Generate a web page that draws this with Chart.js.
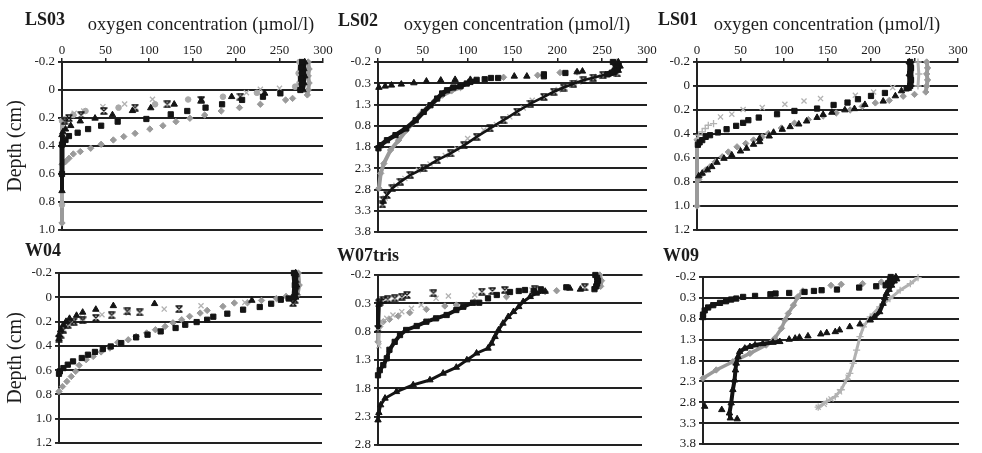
<!DOCTYPE html>
<html>
<head>
<meta charset="utf-8">
<script src="https://cdn.jsdelivr.net/npm/chart.js@4.4.1/dist/chart.umd.min.js"></script>
<style>
  html, body { margin: 0; padding: 0; background: #fff; width: 982px; height: 453px; overflow: hidden; }
  canvas { position: absolute; }
</style>
</head>
<body>
<script>
// ---------- tick labels ----------
const oxygenTicks = ['0', '50', '100', '150', '200', '250', '300'];
const depthTicksLS03 = ['-0.2', '0', '0.2', '0.4', '0.6', '0.8', '1.0'];
const depthTicksLS02 = ['-0.2', '0.3', '1.3', '0.8', '1.8', '2.3', '2.8', '3.3', '3.8'];
const depthTicksLS01 = ['-0.2', '0', '0.2', '0.4', '0.6', '0.8', '1.0', '1.2'];
const depthTicksW04 = ['-0.2', '0', '0.2', '0.4', '0.6', '0.8', '1.0', '1.2'];
const depthTicksW07 = ['-0.2', '0.3', '0.8', '1.3', '1.8', '2.3', '2.8'];
const depthTicksW09 = ['-0.2', '0.3', '0.8', '1.3', '1.8', '2.3', '2.8', '3.3', '3.8'];

// ---------- profiles: [oxygen µmol/l, depth cm] ----------
// LS03
const ls03SquaresTop = [[276,-0.2],[275,-0.16],[276,-0.12],[275,-0.08],[276,-0.04],[274,0.0]];
const ls03Squares = [[251,0.024],[231,0.048],[207,0.071],[184,0.102],[165,0.126],[144,0.15],[125,0.174],[97,0.207],[64,0.226],[45,0.255],[30,0.279],[18,0.305],[8,0.329],[4,0.357],[1,0.38]];
const ls03SquaresBed = [[0,0.39],[0,0.6]];
const ls03TrianglesTop = [[279,-0.2],[278,-0.15],[279,-0.1],[278,-0.05],[277,0.0]];
const ls03Triangles = [[233,0.024],[195,0.048],[160,0.075],[129,0.102],[102,0.128],[81,0.148],[58,0.178],[38,0.202],[21,0.222],[10,0.255],[4,0.28],[1,0.3]];
const ls03TrianglesBed = [[0,0.32],[0,0.72]];
const ls03Stars = [[277,-0.18],[276,-0.1],[276,-0.02],[205,0.048],[160,0.071],[121,0.102],[84,0.126],[48,0.15],[22,0.18],[8,0.2],[3,0.22]];
const ls03DiamondsTop = [[283,-0.2],[284,-0.15],[283,-0.1],[284,-0.05],[283,0.0],[282,0.035]];
const ls03Diamonds = [[265,0.06],[257,0.071],[228,0.102],[204,0.126],[183,0.15],[164,0.179],[147,0.202],[131,0.226],[116,0.255],[101,0.279],[84,0.31],[71,0.333],[59,0.357],[45,0.388],[33,0.416],[21,0.44],[13,0.457],[8,0.488],[4,0.512]];
const ls03DiamondsBed = [[0,0.53],[0,0.95]];
const ls03CirclesTop = [[273,-0.2],[272,-0.12],[273,-0.05]];
const ls03Circles = [[268,-0.024],[224,0.02],[185,0.048],[145,0.068],[107,0.102],[65,0.126],[27,0.15],[13,0.178],[3,0.21]];
const ls03CirclesBed = [[0,0.22],[0,0.82]];
const ls03Crosses = [[250,-0.012],[228,-0.005],[212,0.019],[161,0.066],[104,0.066],[72,0.1],[47,0.119],[25,0.15],[14,0.166],[4,0.214],[1,0.26]];

// LS02
const ls02SquaresTop = [[262,-0.2],[265,-0.15],[267,-0.1],[266,-0.05],[264,0.0],[261,0.05],[256,0.09]];
const ls02Squares = [[209,0.058],[185,0.09],[185,0.136],[134,0.176],[126,0.176],[119,0.206]];
const ls02SquaresCurve = [[110,0.22],[103,0.27],[99,0.307],[92,0.37],[84,0.4],[77,0.465],[71.5,0.54],[66,0.66],[58.5,0.817],[51,0.975],[42,1.17],[31,1.364],[19.5,1.52],[10,1.64],[3,1.757],[0.5,1.83]];
const ls02TrianglesTop = [[268,-0.2],[270,-0.1],[268,0.0]];
const ls02Triangles = [[228,0.018],[222,0.035],[166,0.136],[152,0.136],[103,0.214],[86,0.214],[70,0.23],[54,0.253],[40,0.293],[26,0.324],[15,0.347],[8,0.371],[1,0.4]];
const ls02Stars = [[267,0.07],[251,0.11],[240,0.17],[229,0.23],[218,0.31],[207,0.4],[196,0.5],[185,0.62],[170,0.78],[155,0.97],[140,1.17],[125,1.36],[110,1.56],[96,1.76],[81,1.95],[66,2.11],[51,2.3],[36,2.46],[25,2.62],[16,2.77],[10,2.93],[6,3.05],[5,3.15]];
const ls02DiamondsTop = [[266,-0.2],[268,-0.1],[265,0.0],[260,0.07]];
const ls02Diamonds = [[222,0.035],[203,0.049],[178,0.112],[140,0.16]];
const ls02DiamondsCurve = [[92,0.4],[82,0.48],[72,0.58],[63,0.72],[55,0.88],[47,1.04],[40,1.21],[32,1.4],[23,1.64],[14,1.87],[6.5,2.19],[3,2.42],[1,2.77]];
const ls02Crosses = [[245,0.14],[224,0.27],[201,0.45],[172,0.7],[162,0.88],[147,1.09],[132,1.27],[118,1.4],[100,1.6],[88,1.85],[75,2.0],[58,2.2],[45,2.35],[30,2.54],[20,2.7],[8,3.0],[5,3.17]];

// LS01
const ls01SquaresTop = [[245,-0.2],[246,-0.15],[245,-0.1],[246,-0.05],[245,0.0]];
const ls01Squares = [[241,0.02],[216,0.058],[200,0.083],[185,0.11],[173,0.138],[157,0.158],[138,0.188],[112,0.208],[92,0.235],[71,0.263],[59,0.285],[53,0.307],[45,0.332],[34,0.36],[24,0.387],[15,0.41],[10,0.424],[6,0.451],[3,0.47],[1,0.49]];
const ls01TrianglesTop = [[244,-0.2],[244,-0.1],[244,0.0]];
const ls01Triangles = [[243,0.02],[235,0.041],[228,0.083],[214,0.127],[193,0.155],[181,0.19],[170,0.2],[155,0.22],[145,0.238],[138,0.263],[126,0.293],[117,0.318],[107,0.34],[98,0.362],[88,0.387],[83,0.418],[72,0.437],[72,0.465],[65,0.487],[57,0.52],[50,0.543],[40,0.576],[31,0.604],[23,0.637],[17,0.673],[12,0.7],[6,0.728],[2,0.75]];
const ls01DiamondsTop = [[264,-0.2],[265,-0.15],[264,-0.1],[265,-0.05],[264,0.0],[263,0.05]];
const ls01Diamonds = [[250,0.07],[237,0.085],[221,0.12],[205,0.141],[190,0.17],[176,0.2],[160,0.225],[145,0.25],[128,0.28],[112,0.31],[97,0.35],[82,0.396],[75,0.424],[65,0.45],[56,0.479],[46,0.507],[36,0.55],[29,0.59],[21,0.632],[15,0.673],[10,0.7],[5,0.74],[2,0.78]];
const ls01DiamondsBed = [[0,0.45],[0,1.0]];
const ls01Crosses = [[225,0.013],[203,0.05],[182,0.077],[142,0.105],[123,0.125],[101,0.152],[75,0.18],[53,0.196],[40,0.235],[27,0.258]];
const ls01PlusTop = [[254,-0.2],[255,-0.1],[254,0.0]];
const ls01Plus = [[19,0.313],[13,0.327],[9.5,0.354],[6,0.382],[2,0.41],[1,0.44]];

// W04
const w04SquaresTop = [[268,-0.2],[269,-0.1],[268,0.0]];
const w04Squares = [[262,0.01],[253,0.02],[242,0.053],[229,0.08],[210,0.102],[192,0.135],[176,0.16],[169,0.185],[157,0.204],[144,0.226],[133,0.253],[116,0.281],[101,0.308],[88,0.33],[71,0.377],[59,0.405],[50,0.426],[41,0.45],[33,0.473],[26,0.5],[16,0.528],[10,0.555],[5,0.583],[1,0.61],[0,0.63]];
const w04TrianglesTop = [[270,-0.2],[271,-0.1],[270,0.0]];
const w04Triangles = [[220,0.026],[109,0.053],[62,0.07],[42,0.1],[27,0.124],[20,0.15],[12,0.175],[8,0.2],[5,0.226],[2,0.267],[0,0.31],[0,0.34]];
const w04StarsTop = [[270,-0.15],[270,-0.05],[269,0.02]];
const w04Stars = [[267,0.047],[137,0.097],[92,0.124],[78,0.116],[60,0.148],[42,0.17],[27,0.19],[17,0.2],[10,0.226],[5,0.267],[2,0.308],[0,0.34]];
const w04DiamondsTop = [[273,-0.2],[274,-0.1],[272,-0.02]];
const w04Diamonds = [[259,-0.007],[248,0.01],[231,0.026],[215,0.045],[200,0.047],[187,0.075],[169,0.108],[161,0.13],[149,0.157],[140,0.185],[130,0.21],[121,0.24],[110,0.267],[100,0.294],[88,0.322],[79,0.35],[67,0.371],[58,0.418],[48,0.45],[39,0.487],[31,0.514],[23,0.56],[19,0.61],[14,0.652],[9,0.693],[4,0.735],[0,0.775]];
const w04Crosses = [[212,0.042],[162,0.07],[120,0.097],[79,0.13],[49,0.143],[27,0.171],[14,0.212],[8,0.24]];

// W07tris
const w07BlackTop = [[247,-0.2],[249,-0.15],[250,-0.1],[249,-0.05],[248,0.0],[246,0.05]];
const w07Squares = [[214,0.017],[185,0.053],[177,0.082],[167,0.065],[160,0.082],[150,0.1],[135,0.153],[125,0.212],[115,0.289]];
const w07SquaresCurve = [[108,0.29],[97,0.36],[89,0.418],[78,0.506],[66,0.565],[55,0.624],[44,0.7],[32,0.77],[25,0.86],[19,0.98],[13,1.12],[10,1.27],[6,1.39],[2,1.48],[0,1.57]];
const w07Triangles = [[230,0.053],[218,0.035]];
const w07TrianglesCurve = [[190,0.09],[180,0.123],[173,0.183],[165,0.271],[160,0.36],[154,0.448],[148,0.536],[142,0.653],[137,0.77],[133,0.889],[129,1.005],[125,1.094],[112,1.18],[101,1.3],[89,1.43],[74,1.535],[59,1.653],[40,1.74],[21,1.86],[8,1.976],[3,2.094],[1,2.23],[0,2.36]];
const w07Stars = [[235,0.017],[178,0.053],[144,0.065],[130,0.082],[118,0.094],[63,0.123],[33,0.153],[27,0.183],[19,0.212],[11,0.23],[6,0.241],[2,0.271]];
const w07StarsBed = [[1,0.3],[0,0.75]];
const w07GrayTop = [[252,-0.2],[254,-0.1],[253,0.0]];
const w07Diamonds = [[203,0.077],[190,0.094],[146,0.183],[110,0.271],[89,0.33],[76,0.347],[55,0.406],[36,0.465],[23,0.523],[13,0.582],[6,0.624],[2,0.71]];
const w07DiamondsBed = [[1,0.7],[0,0.98]];
const w07Crosses = [[175,0.065],[110,0.153],[80,0.17],[66,0.212],[49,0.33],[38,0.388],[27,0.447],[17,0.506],[10,0.565],[4,0.624]];
const w07CrossesBed = [[1,0.75],[1,1.05]];

// W09
const w09SquaresTop = [[220,-0.2],[222,-0.15],[219,-0.1],[217,-0.05],[214,0.0]];
const w09Squares = [[203,0.022],[183,0.053],[157,0.1],[139,0.117],[130,0.134],[119,0.158],[101,0.182],[85,0.196],[79,0.213],[61,0.253],[47,0.277]];
const w09SquaresCurve = [[39,0.316],[33,0.34],[27,0.38],[20,0.42],[12,0.475],[6,0.53],[2,0.6],[0,0.7],[0,0.76]];
const w09TrianglesUpper = [[226,-0.2],[227,-0.15],[224,-0.1],[221,0.0],[218,0.1],[215,0.196],[213,0.3],[211,0.435],[207,0.635],[201,0.755],[196,0.834]];
const w09Triangles = [[184,0.929],[172,0.993],[160,1.072],[155,1.113],[145,1.137],[138,1.168],[123,1.215],[113,1.247],[108,1.27],[101,1.294],[2,2.9],[22,2.98],[40,3.2]];
const w09TrianglesLower = [[90,1.35],[82,1.367],[70,1.4],[61,1.43],[55,1.47],[49,1.509],[43,1.59],[41,1.71],[39,1.867],[38,2.03],[37,2.27],[35,2.5],[33,2.82],[31,3.06],[32,3.18]];
const w09Diamonds = [[209,-0.08],[187,-0.04],[162,-0.025],[150,0.0]];
const w09DiamondsCurve = [[117,0.134],[111,0.277],[106,0.475],[100,0.674],[96,0.834],[92,1.03],[84,1.27],[74,1.43],[55,1.63],[35,1.83],[15.5,2.027],[0,2.225]];
const w09PlusCurve = [[252,-0.185],[243,-0.04],[231,0.117],[219,0.316],[207,0.516],[196,0.755],[188,0.993],[184,1.23],[180,1.55],[176,1.867],[172,2.106],[168,2.265],[162,2.5],[155,2.664],[145,2.78],[135,2.917]];
const w09Crosses = [[135,2.92],[142,2.85],[150,2.72],[160,2.55],[170,2.2]];

// ---------- marker styles ----------
const FONT = "'Liberation Serif', 'Times New Roman', serif";
const INK = '#1c1c1c';
const BLACK = '#141414';
const GRAY_D = '#9a9a9a';
const GRAY_C = '#a9a9a9';
const GRAY_X = '#b2b2b2';

function starMark() {
  const c = document.createElement('canvas');
  c.width = 8; c.height = 8;
  const g = c.getContext('2d');
  g.strokeStyle = BLACK;
  g.lineWidth = 1.4;
  g.beginPath();
  g.moveTo(1, 1); g.lineTo(7, 7);
  g.moveTo(7, 1); g.lineTo(1, 7);
  g.moveTo(0.5, 1); g.lineTo(7.5, 1);
  g.moveTo(0.5, 7); g.lineTo(7.5, 7);
  g.stroke();
  return c;
}
const STAR = starMark();

const marks = {
  sq: { style: 'rect', r: 3.7, color: BLACK, bw: 1 },
  tr: { style: 'triangle', r: 3.7, color: BLACK, bw: 1 },
  st: { style: STAR, r: 4, color: BLACK, bw: 1 },
  di: { style: 'rectRot', r: 3.2, color: GRAY_D, bw: 1 },
  ci: { style: 'circle', r: 2.8, color: GRAY_C, bw: 1 },
  xg: { style: 'crossRot', r: 3.6, color: GRAY_X, bw: 1.3 },
  pg: { style: 'cross', r: 3.6, color: GRAY_X, bw: 1.3 }
};

function ds(points, mark, lineWidth) {
  const m = marks[mark];
  return {
    data: points.map(p => ({ x: p[0], y: p[1] })),
    pointStyle: m.style,
    pointRadius: m.r,
    pointHoverRadius: m.r,
    pointBackgroundColor: m.color,
    pointBorderColor: m.color,
    pointBorderWidth: m.bw,
    showLine: !!lineWidth,
    borderColor: m.color,
    borderWidth: lineWidth || 0,
    tension: 0,
    clip: 12
  };
}

// ---------- text drawn on each panel (panel name, axis caption) ----------
const panelText = {
  id: 'panelText',
  afterDraw(chart, args, opts) {
    const ctx = chart.ctx;
    ctx.save();
    ctx.fillStyle = INK;
    ctx.textBaseline = 'alphabetic';
    for (const t of opts.items) {
      ctx.font = t.font;
      ctx.textAlign = t.align;
      ctx.fillText(t.text, t.x - opts.ox, t.y - opts.oy);
    }
    ctx.restore();
  }
};

const CAPTION = 'oxygen concentration (\u00b5mol/l)';

const panels = [
  { name: 'LS03', L: 62, T: 62, R: 323, B: 230, min: -0.2, max: 1.0, step: 0.2, labels: depthTicksLS03,
    top: true, depth: true, nameX: 25, nameY: 25, capX: 201,
    sets: [
      ds(ls03SquaresTop, 'sq', 5), ds(ls03Squares, 'sq'), ds(ls03SquaresBed, 'sq', 5),
      ds(ls03TrianglesTop, 'tr', 4), ds(ls03Triangles, 'tr'), ds(ls03TrianglesBed, 'tr', 4),
      ds(ls03Stars, 'st'),
      ds(ls03CirclesTop, 'ci', 3), ds(ls03Circles, 'ci'), ds(ls03CirclesBed, 'ci', 4),
      ds(ls03Crosses, 'xg'),
      ds(ls03DiamondsTop, 'di', 4), ds(ls03Diamonds, 'di'), ds(ls03DiamondsBed, 'di', 4)
    ] },
  { name: 'LS02', L: 378, T: 62, R: 647, B: 232, min: -0.2, max: 3.8, step: 0.5, labels: depthTicksLS02,
    top: true, depth: false, nameX: 338, nameY: 25.5, capX: 517,
    sets: [
      ds(ls02SquaresTop, 'sq', 6), ds(ls02Squares, 'sq'), ds(ls02SquaresCurve, 'sq', 4.5),
      ds(ls02TrianglesTop, 'tr', 4), ds(ls02Triangles, 'tr'),
      ds(ls02Stars, 'st', 2.6),
      ds(ls02Crosses, 'xg'),
      ds(ls02DiamondsTop, 'di', 4), ds(ls02Diamonds, 'di'), ds(ls02DiamondsCurve, 'di', 4)
    ] },
  { name: 'LS01', L: 697, T: 62, R: 958, B: 230, min: -0.2, max: 1.2, step: 0.2, labels: depthTicksLS01,
    top: true, depth: false, nameX: 658, nameY: 25, capX: 827,
    sets: [
      ds(ls01SquaresTop, 'sq', 6), ds(ls01Squares, 'sq'),
      ds(ls01TrianglesTop, 'tr', 4), ds(ls01Triangles, 'tr'),
      ds(ls01Crosses, 'xg'),
      ds(ls01PlusTop, 'pg', 3), ds(ls01Plus, 'pg'),
      ds(ls01DiamondsTop, 'di', 4), ds(ls01Diamonds, 'di'), ds(ls01DiamondsBed, 'di', 4)
    ] },
  { name: 'W04', L: 59, T: 273, R: 322, B: 443, min: -0.2, max: 1.2, step: 0.2, labels: depthTicksW04,
    top: false, depth: true, nameX: 25, nameY: 256,
    sets: [
      ds(w04SquaresTop, 'sq', 5), ds(w04Squares, 'sq'),
      ds(w04TrianglesTop, 'tr', 4), ds(w04Triangles, 'tr'),
      ds(w04StarsTop, 'st'), ds(w04Stars, 'st'),
      ds(w04Crosses, 'xg'),
      ds(w04DiamondsTop, 'di', 4), ds(w04Diamonds, 'di')
    ] },
  { name: 'W07tris', L: 378, T: 275, R: 642, B: 445, min: -0.2, max: 2.8, step: 0.5, labels: depthTicksW07,
    top: false, depth: false, nameX: 337, nameY: 261,
    sets: [
      ds(w07BlackTop, 'sq', 5), ds(w07Squares, 'sq'), ds(w07SquaresCurve, 'sq', 4),
      ds(w07Triangles, 'tr'), ds(w07TrianglesCurve, 'tr', 3),
      ds(w07Stars, 'st'), ds(w07StarsBed, 'st', 4),
      ds(w07Crosses, 'xg'), ds(w07CrossesBed, 'xg', 3),
      ds(w07GrayTop, 'di', 4), ds(w07Diamonds, 'di'), ds(w07DiamondsBed, 'di', 4)
    ] },
  { name: 'W09', L: 703, T: 277, R: 959, B: 444, min: -0.2, max: 3.8, step: 0.5, labels: depthTicksW09,
    top: false, depth: false, nameX: 663, nameY: 261,
    sets: [
      ds(w09SquaresTop, 'sq', 5), ds(w09Squares, 'sq'), ds(w09SquaresCurve, 'sq', 4),
      ds(w09TrianglesUpper, 'tr', 4), ds(w09Triangles, 'tr'), ds(w09TrianglesLower, 'tr', 4),
      ds(w09Crosses, 'xg'),
      ds(w09Diamonds, 'di'), ds(w09DiamondsCurve, 'di', 3.5),
      ds(w09PlusCurve, 'pg', 3)
    ] }
];

const LEFT = 60, TOP = 60, RIGHT = 30, BOTTOM = 14;

panels.forEach(p => {
  const w = LEFT + (p.R - p.L) + RIGHT;
  const h = TOP + (p.B - p.T) + BOTTOM;
  const ox = p.L - LEFT, oy = p.T - TOP;
  const cv = document.createElement('canvas');
  cv.width = w; cv.height = h;
  cv.style.left = ox + 'px'; cv.style.top = oy + 'px';
  cv.style.width = w + 'px'; cv.style.height = h + 'px';
  document.body.appendChild(cv);

  const items = [{ text: p.name, x: p.nameX, y: p.nameY, font: 'bold 18px ' + FONT, align: 'left' }];
  if (p.top) items.push({ text: CAPTION, x: p.capX, y: 30, font: '18.5px ' + FONT, align: 'center' });

  new Chart(cv, {
    type: 'scatter',
    data: { datasets: p.sets },
    plugins: [panelText],
    options: {
      responsive: false,
      animation: false,
      devicePixelRatio: 1,
      events: [],
      layout: { padding: { left: 0, top: 0, right: RIGHT, bottom: BOTTOM } },
      plugins: {
        legend: { display: false },
        tooltip: { enabled: false },
        panelText: { items, ox, oy }
      },
      scales: {
        x: {
          type: 'linear', position: 'top', min: 0, max: 300,
          afterFit: s => { s.height = TOP; },
          ticks: {
            display: p.top, stepSize: 50, padding: 0, autoSkip: false, maxRotation: 0,
            color: INK, font: { family: FONT, size: 13 },
            callback: v => oxygenTicks[Math.round(v / 50)]
          },
          grid: { drawOnChartArea: false, drawTicks: p.top, tickLength: 4, color: '#222', lineWidth: 1.5 },
          border: { display: true, color: '#222', width: 2 }
        },
        y: {
          type: 'linear', reverse: true, min: p.min, max: p.max,
          afterFit: s => { s.width = LEFT; },
          ticks: {
            stepSize: p.step, padding: 3, autoSkip: false,
            color: INK, font: { family: FONT, size: 13 },
            callback: v => p.labels[Math.round((v - p.min) / p.step)]
          },
          grid: { color: '#222', lineWidth: 1.9, tickLength: 4 },
          border: { display: true, color: '#222', width: 2 },
          title: {
            display: p.depth, text: 'Depth (cm)', color: INK,
            font: { family: FONT, size: 20 },
            padding: { top: 16 - ox - 12, bottom: 0 }
          }
        }
      }
    }
  });
});
</script>
</body>
</html>
